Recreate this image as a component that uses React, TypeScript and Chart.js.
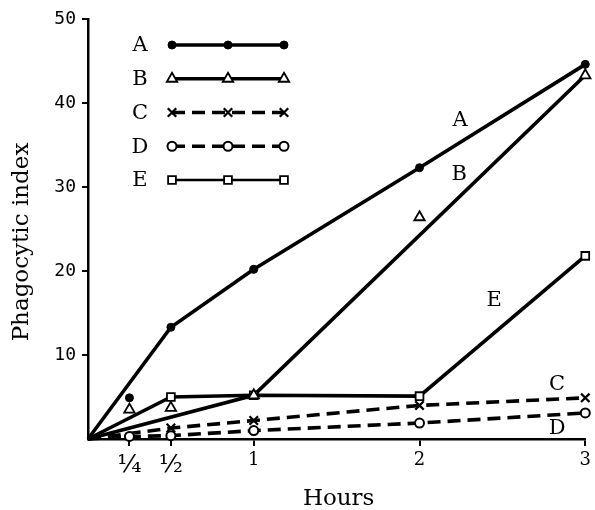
import React, { useEffect, useRef } from 'react';
import { Chart, registerables } from 'chart.js';
import { drawPoint } from 'chart.js/helpers';

Chart.register(...registerables);

// ---- data ----
const hours = [0, 0.25, 0.5, 1, 2, 3];
const xTickValues = [0.25, 0.5, 1, 2, 3];
const xTickLabels = ['¼', '½', '1', '2', '3'];
const yTickValues = [10, 20, 30, 40, 50];
const seriesNames = ['A', 'B', 'C', 'D', 'E'];

// measured points (markers)
const pointsA = [null, 4.9, 13.3, 20.2, 32.3, 44.6];
const pointsB = [null, 3.5, 3.7, 5.2, 26.4, 43.3];
const pointsC = [null, null, 1.3, 2.2, 4.0, 4.9];
const pointsD = [null, 0.3, 0.4, 1.0, 1.9, 3.1];
const pointsE = [null, null, 5.0, 5.2, 5.1, 21.8];

// drawn (fitted) lines
const lineA = [0, null, 13.3, 20.2, 32.3, 44.6];
const lineB = [0, null, null, 5.2, null, 43.3];
const lineC = [0, null, 1.3, 2.2, 4.0, 4.9];
const lineD = [0, 0.3, 0.4, 1.0, 1.9, 3.1];
const lineE = [0, null, 5.0, 5.2, 5.1, 21.8];

// in-plot series labels (hours, index)
const labelHours = [2.245, 2.24, 2.83, 2.83, 2.45];
const labelValues = [37.9, 31.5, 6.5, 1.2, 16.5];

const allPoints = [pointsA, pointsB, pointsC, pointsD, pointsE];
const allLines = [lineA, lineB, lineC, lineD, lineE];

// ---- styles ----
const markerStyles = [
  { pointStyle: 'circle', radius: 4, fill: '#000', borderWidth: 1 },
  { pointStyle: 'triangle', radius: 6, fill: '#fff', borderWidth: 1.8 },
  { pointStyle: 'crossRot', radius: 6, fill: '#fff', borderWidth: 2.2 },
  { pointStyle: 'circle', radius: 4.5, fill: '#fff', borderWidth: 2 },
  { pointStyle: 'rect', radius: 5.5, fill: '#fff', borderWidth: 1.8 },
];
const lineDashes = [[], [], [13, 7], [13, 7], []];
const lineWidths = [3.6, 3.6, 3.6, 3.6, 3.6];

const SERIF = '"DejaVu Serif", serif';
const MONO = '"DejaVu Sans Mono", monospace';

function toXY(arr: (number | null)[]) {
  return hours.map((h, i) => ({ x: h, y: arr[i] }));
}

const overlayPlugin = {
  id: 'overlay',
  afterDatasetsDraw(chart: any) {
    const ctx = chart.ctx;
    const xs = chart.scales.x;
    const ys = chart.scales.y;
    const ca = chart.chartArea;
    ctx.save();
    ctx.fillStyle = '#000';
    ctx.strokeStyle = '#000';

    // in-plot labels
    ctx.font = `21px ${SERIF}`;
    ctx.textAlign = 'center';
    ctx.textBaseline = 'middle';
    seriesNames.forEach((n, i) => {
      ctx.fillText(n, xs.getPixelForValue(labelHours[i]), ys.getPixelForValue(labelValues[i]));
    });

    // legend
    const lx = ca.left + 52;
    const x0 = ca.left + 84;
    const x1 = ca.left + 196;
    seriesNames.forEach((n, i) => {
      const y = ca.top + 26 + i * 33.75;
      ctx.font = `21px ${SERIF}`;
      ctx.fillStyle = '#000';
      ctx.textAlign = 'center';
      ctx.textBaseline = 'middle';
      ctx.fillText(n, lx, y + 1);
      ctx.save();
      ctx.lineWidth = i === 4 ? 2.5 : 3.5;
      ctx.setLineDash(lineDashes[i]);
      ctx.beginPath();
      ctx.moveTo(x0, y);
      ctx.lineTo(x1, y);
      ctx.stroke();
      ctx.restore();
      const m = markerStyles[i];
      [x0, (x0 + x1) / 2, x1].forEach((mx) => {
        ctx.save();
        ctx.fillStyle = m.fill;
        ctx.strokeStyle = '#000';
        ctx.lineWidth = m.borderWidth;
        drawPoint(ctx, { pointStyle: m.pointStyle, radius: m.radius, rotation: 0, borderWidth: m.borderWidth }, mx, y);
        ctx.restore();
      });
    });

    // axis titles
    ctx.fillStyle = '#000';
    ctx.font = `23px ${SERIF}`;
    ctx.textAlign = 'center';
    ctx.textBaseline = 'middle';
    ctx.fillText('Hours', (ca.left + ca.right) / 2 + 2, 499);
    ctx.save();
    ctx.translate(22, 242);
    ctx.rotate(-Math.PI / 2);
    ctx.fillText('Phagocytic index', 0, 0);
    ctx.restore();

    ctx.restore();
  },
};

export default function App() {
  const ref = useRef<HTMLCanvasElement | null>(null);
  useEffect(() => {
    if (!ref.current) return;
    const markerSets = allPoints.map((p, i) => ({
      label: seriesNames[i] + ' points',
      data: toXY(p),
      showLine: false,
      clip: false,
      pointStyle: markerStyles[i].pointStyle,
      pointRadius: markerStyles[i].radius,
      pointBackgroundColor: markerStyles[i].fill,
      pointBorderColor: '#000',
      pointBorderWidth: markerStyles[i].borderWidth,
      borderColor: '#000',
      order: 0,
    }));
    const lineSets = allLines.map((l, i) => ({
      label: seriesNames[i],
      data: toXY(l),
      showLine: true,
      spanGaps: true,
      clip: false,
      borderColor: '#000',
      borderWidth: lineWidths[i],
      borderDash: lineDashes[i],
      pointRadius: 0,
      tension: 0,
      fill: false,
      order: 1,
    }));
    const chart = new Chart(ref.current, {
      type: 'scatter',
      data: { datasets: [...markerSets, ...lineSets] as any },
      options: {
        responsive: false,
        animation: false,
        events: [],
        layout: { padding: { left: 0, right: 6, top: 19, bottom: 0 } },
        plugins: { legend: { display: false }, tooltip: { enabled: false } },
        scales: {
          x: {
            type: 'linear',
            min: 0,
            max: 3,
            afterFit: (s: any) => { s.height = 71; },
            afterBuildTicks: (s: any) => { s.ticks = xTickValues.map((v) => ({ value: v })); },
            border: { display: true, color: '#000', width: 2.5 },
            grid: { drawOnChartArea: false, drawTicks: true, tickLength: 7, color: '#000', lineWidth: 2 },
            ticks: {
              color: '#000',
              padding: 4,
              maxRotation: 0,
              autoSkip: false,
              font: (c: any) => ({ family: SERIF, size: c.index < 2 ? 25 : 18 }),
              callback: (_v: any, i: number) => xTickLabels[i],
            },
          },
          y: {
            type: 'linear',
            min: 0,
            max: 50,
            afterFit: (s: any) => { s.width = 88; },
            afterBuildTicks: (s: any) => { s.ticks = yTickValues.map((v) => ({ value: v })); },
            border: { display: true, color: '#000', width: 2.5 },
            grid: { drawOnChartArea: false, drawTicks: true, tickLength: 6, color: '#000', lineWidth: 2 },
            ticks: {
              color: '#000',
              padding: 6,
              font: { family: MONO, size: 18 },
              callback: (v: any) => String(v),
            },
          },
        },
      },
      plugins: [overlayPlugin],
    });
    return () => chart.destroy();
  }, []);
  return (
    <div style={{ position: 'fixed', left: 0, top: 0, width: 595, height: 510, background: '#fff' }}>
      <canvas ref={ref} width={595} height={510} style={{ width: 595, height: 510, display: 'block' }} />
    </div>
  );
}
